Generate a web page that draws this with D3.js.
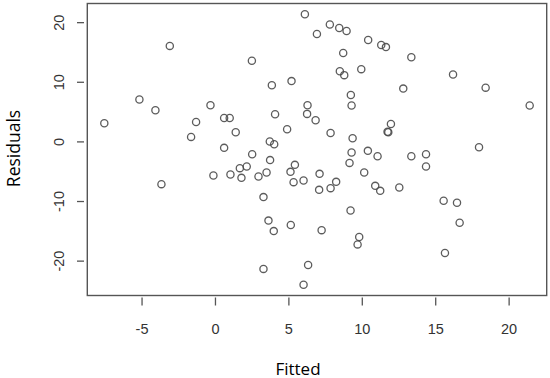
<!DOCTYPE html>
<html><head><meta charset="utf-8">
<script src="https://cdn.jsdelivr.net/npm/d3@7"></script>
<style>html,body{margin:0;padding:0;background:#fff;}svg{display:block;}</style>
</head><body>
<script>
const fitted = [6.09,-3.11,2.48,5.18,3.84,-5.18,-4.09,-0.34,6.27,6.24,4.06,-7.57,-1.32,0.59,0.97,-1.66,1.38,4.88,3.70,4.0,0.59,2.5,3.72,
  7.79,8.43,8.93,6.91,10.4,11.29,11.61,8.70,13.34,8.47,8.77,9.93,16.18,12.79,18.4,9.22,9.27,21.4,6.82,7.84,9.34,11.95,11.77,11.72,
  17.95,9.27,10.38,11.04,13.34,14.34,14.34,9.13,10.13,6.0,7.09,7.06,7.84,8.22,10.88,11.22,12.52,15.54,16.45,16.63,9.2,7.23,9.79,9.68,
  15.63,6.31,6.0,1.66,2.13,-0.14,1.02,1.77,2.93,3.48,5.11,5.41,5.32,-3.68,3.27,3.61,3.97,5.13,3.27];
const residuals = [21.4,16.1,13.6,10.2,9.5,7.1,5.3,6.15,6.15,4.7,4.64,3.13,3.35,4.0,4.0,0.84,1.62,2.13,0.07,-0.39,-1.0,-2.06,-3.05,
  19.7,19.1,18.6,18.1,17.1,16.25,15.9,14.9,14.2,11.84,11.2,12.2,11.3,8.94,9.1,7.87,6.1,6.1,3.63,1.5,0.62,3.0,1.62,1.7,
  -0.89,-1.78,-1.5,-2.4,-2.4,-2.06,-4.12,-3.52,-5.13,-6.47,-5.36,-8.04,-7.76,-6.70,-7.37,-8.21,-7.64,-9.88,-10.2,-13.57,-11.5,-14.8,-15.96,-17.19,
  -18.64,-20.65,-23.95,-4.4,-4.12,-5.63,-5.47,-6.03,-5.8,-5.13,-5.02,-3.85,-6.75,-7.09,-9.26,-13.2,-14.96,-13.95,-21.3];
const xTicks = [-5,0,5,10,15,20];
const yTicks = [-20,-10,0,10,20];
const xLabel = "Fitted", yLabel = "Residuals";

const W = 550, H = 378;
const box = {left: 87.3, right: 546.7, top: 3.5, bottom: 295.5};
const svg = d3.select("body").append("svg").attr("width", W).attr("height", H);

function padded(ext){ const r = ext[1]-ext[0]; return [ext[0]-0.04*r, ext[1]+0.04*r]; }
const x = d3.scaleLinear().domain(padded(d3.extent(fitted))).range([box.left, box.right]);
const y = d3.scaleLinear().domain(padded(d3.extent(residuals))).range([box.bottom, box.top]);

const col = "#555";
svg.append("rect").attr("x", box.left).attr("y", box.top)
  .attr("width", box.right-box.left).attr("height", box.bottom-box.top)
  .attr("fill","none").attr("stroke", col).attr("stroke-width", 1.4);

// ticks
const gx = svg.append("g");
gx.selectAll("line").data(xTicks).join("line")
  .attr("x1", d=>x(d)).attr("x2", d=>x(d)).attr("y1", box.bottom+2).attr("y2", box.bottom+10)
  .attr("stroke", col).attr("stroke-width", 1.3);
gx.selectAll("text").data(xTicks).join("text")
  .attr("x", d=>x(d)).attr("y", 333.5).attr("text-anchor","middle")
  .attr("font-family","'Liberation Sans', Arial, sans-serif").attr("font-size", 14.5).attr("fill","#333")
  .text(d=>d);

const gy = svg.append("g");
gy.selectAll("line").data(yTicks).join("line")
  .attr("y1", d=>y(d)).attr("y2", d=>y(d)).attr("x1", 77).attr("x2", 84)
  .attr("stroke", col).attr("stroke-width", 1.3);
gy.selectAll("text").data(yTicks).join("text")
  .attr("transform", d=>`translate(63.5,${y(d)}) rotate(-90)`).attr("text-anchor","middle")
  .attr("font-family","'Liberation Sans', Arial, sans-serif").attr("font-size", 14.5).attr("fill","#333")
  .text(d=>d);

// points
svg.append("g").selectAll("circle").data(fitted.map((f,i)=>[f, residuals[i]])).join("circle")
  .attr("cx", d=>x(d[0])).attr("cy", d=>y(d[1])).attr("r", 3.6)
  .attr("fill","none").attr("stroke", "#4a4a4a").attr("stroke-width", 1.3).attr("stroke-opacity", 0.9);

// axis titles
svg.append("text").attr("x", (box.left+box.right)/2 - 19).attr("y", 374.5).attr("text-anchor","middle")
  .attr("font-family","'Open Sans', sans-serif").attr("font-size", 17).attr("fill","#000").text(xLabel);
svg.append("text").attr("transform", `translate(20,148.5) rotate(-90)`).attr("text-anchor","middle")
  .attr("font-family","'Open Sans', sans-serif").attr("font-size", 17.5).attr("fill","#000").text(yLabel);
</script>
</body></html>
